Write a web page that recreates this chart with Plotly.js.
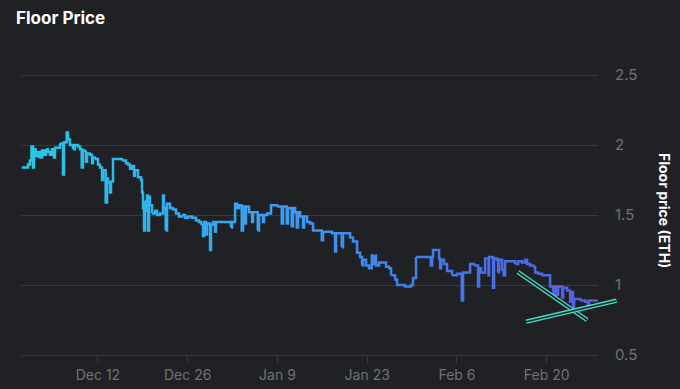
<!DOCTYPE html>
<html>
<head>
<meta charset="utf-8">
<script src="https://cdn.plot.ly/plotly-3.0.1.min.js"></script>
<style>html,body{margin:0;padding:0;background:#202125;}#chart{width:680px;height:389px;}</style>
</head>
<body>
<div id="chart"></div>
<script>
// ---- data ----
const startDate = '2022-11-30';
const dayOffsets = [0.11,0.94,1.09,1.40,1.64,1.87,2.03,2.29,2.65,2.96,3.28,3.59,3.90,4.21,4.52,4.84,5.15,5.30,6.08,6.55,
6.71,7.13,7.33,7.64,8.11,8.42,8.89,9.20,9.47,9.67,9.98,10.14,10.30,10.76,11.08,11.23,11.54,12.01,12.32,12.64,
12.79,13.21,13.42,13.57,13.88,14.04,14.35,15.13,15.76,16.38,16.69,17.00,17.32,17.63,17.78,18.25,18.72,18.88,19.03,19.19,
19.34,19.50,19.66,19.81,19.97,20.12,20.44,20.90,21.22,21.68,22.15,22.31,22.57,22.78,23.24,23.71,24.18,24.65,25.12,25.59,
26.05,26.68,27.30,27.77,28.08,28.39,28.55,28.86,29.02,29.49,29.64,29.95,30.27,30.42,31.36,32.29,32.76,32.92,33.39,33.70,
34.01,34.43,34.63,34.94,35.10,35.57,36.04,36.19,36.93,37.13,37.75,37.91,38.38,39.00,39.94,40.67,40.87,41.45,41.65,42.23,
42.43,42.75,43.01,43.21,43.53,43.99,44.15,44.62,45.09,45.55,46.33,46.91,47.11,47.89,48.52,48.99,49.14,49.77,50.03,50.23,
51.33,51.79,52.42,52.89,53.20,53.35,53.82,54.29,54.71,54.91,55.23,55.38,55.85,56.47,56.94,57.41,57.72,58.35,58.66,59.91,
60.84,61.15,61.62,62.87,63.81,63.92,64.12,64.27,64.90,65.21,65.37,65.52,65.99,66.46,67.24,68.02,68.75,68.95,69.73,70.05,
70.67,71.29,71.45,71.76,72.23,72.39,72.85,72.93,73.01,73.63,73.79,74.26,74.41,74.57,75.04,75.27,75.51,76.29,77.07,77.54,
78.16,78.63,78.94,79.41,79.88,80.19,80.66,81.28,82.06,82.53,82.99,83.07,83.31,83.62,83.78,84.40,84.56,85.18,85.65,85.80,
86.11,86.27,87.21,87.99,88.46,88.61,89.95];
const prices = [1.84,1.84,1.86,1.89,1.99,1.84,1.97,1.92,1.95,1.91,1.96,1.93,1.97,1.95,1.93,1.97,1.91,1.98,2.01,1.79,
2.02,2.09,2.04,2.00,1.97,2.00,1.99,1.97,1.84,1.96,1.95,1.88,1.94,1.93,1.87,1.91,1.90,1.86,1.84,1.75,
1.82,1.59,1.76,1.73,1.66,1.74,1.90,1.90,1.89,1.87,1.86,1.83,1.85,1.78,1.82,1.77,1.75,1.66,1.55,1.39,
1.60,1.53,1.64,1.39,1.63,1.57,1.51,1.53,1.50,1.51,1.64,1.55,1.39,1.58,1.55,1.54,1.51,1.49,1.50,1.48,
1.49,1.48,1.46,1.45,1.43,1.35,1.45,1.36,1.44,1.25,1.43,1.45,1.38,1.45,1.45,1.45,1.41,1.45,1.58,1.55,
1.57,1.39,1.56,1.44,1.56,1.52,1.45,1.52,1.39,1.50,1.45,1.50,1.51,1.57,1.56,1.44,1.56,1.44,1.55,1.42,
1.55,1.52,1.41,1.52,1.49,1.41,1.49,1.45,1.44,1.39,1.39,1.32,1.38,1.38,1.37,1.24,1.37,1.37,1.27,1.37,
1.34,1.31,1.23,1.20,1.14,1.18,1.14,1.12,1.21,1.15,1.21,1.14,1.16,1.16,1.13,1.12,1.07,1.04,1.00,0.99,
1.00,1.05,1.20,1.20,1.20,1.14,1.20,1.25,1.25,1.19,1.12,1.18,1.15,1.10,1.07,1.08,0.89,1.09,1.09,1.15,
1.14,0.99,1.12,1.09,1.09,1.19,1.18,1.07,1.20,0.98,1.19,1.18,1.09,1.18,1.11,1.07,1.17,1.17,1.15,1.17,
1.16,1.18,1.15,1.14,1.13,1.09,1.08,1.07,1.07,0.99,0.96,0.93,0.99,0.93,0.99,0.91,0.98,0.96,0.88,0.95,
0.84,0.90,0.89,0.88,0.85,0.89,0.89];
const trendADays = [77.5, 88.3];
const trendAPrices = [1.093, 0.75];
const trendBDays = [78.8, 92.9];
const trendBPrices = [0.738, 0.888];
const rangeDays = [0, 90];
const yTicks = [0.5, 1, 1.5, 2, 2.5];
const firstTick = '2022-12-12';
const tickStepDays = 14;

if (dayOffsets.length !== prices.length) console.error('length mismatch', dayOffsets.length, prices.length);

// ---- helpers ----
const DAY = 86400000;
const t0 = Date.parse(startDate + 'T00:00:00Z');
function toDate(d){ return new Date(t0 + d*DAY).toISOString().replace('T',' ').slice(0,19); }
const xDates = dayOffsets.map(toDate);

// gradient colours along time
const stops = [[0,[40,200,232]],[0.45,[60,155,240]],[0.75,[70,118,232]],[1,[88,92,226]]];
function colorAt(f){
  for(let i=1;i<stops.length;i++){
    if(f<=stops[i][0]){
      const a=stops[i-1],b=stops[i],k=(f-a[0])/(b[0]-a[0]);
      const c=a[1].map((v,j)=>Math.round(v+(b[1][j]-v)*k));
      return 'rgb('+c.join(',')+')';
    }
  }
  return 'rgb('+stops[stops.length-1][1].join(',')+')';
}

const traces = [];
const chunk = 6;
for(let s=0; s<xDates.length-1; s+=chunk){
  const e = Math.min(s+chunk, xDates.length-1);
  const mid = (dayOffsets[s]+dayOffsets[e])/2 / rangeDays[1];
  traces.push({
    type:'scatter', mode:'lines', x:xDates.slice(s,e+1), y:prices.slice(s,e+1),
    line:{shape:'hv', width:2.5, color:colorAt(mid)}, hoverinfo:'skip', showlegend:false,
    xaxis:'x', yaxis:'y'
  });
}
// trend lines (hollow look: wide cyan + dark core)
[[trendADays,trendAPrices],[trendBDays,trendBPrices]].forEach(([d,p])=>{
  traces.push({type:'scatter',mode:'lines',x:d.map(toDate),y:p,xaxis:'x2',yaxis:'y2',
    line:{color:'#48dcc6',width:4.5},hoverinfo:'skip',showlegend:false});
  traces.push({type:'scatter',mode:'lines',x:d.map(toDate),y:p,xaxis:'x2',yaxis:'y2',
    line:{color:'#202125',width:1.6},hoverinfo:'skip',showlegend:false});
});

const W=680, H=389;
const margin = {l:21, r:0, t:47, b:34};
const plotW = W - margin.l - margin.r;
const D = (598 - margin.l)/plotW;   // main x-axis domain end
const yRange = [0.5, 2.7];
const font = 'Inter, "Noto Sans", sans-serif';
const grey = '#717277';
const lineGrey = '#38393e';

const layout = {
  width:W, height:H, margin:margin,
  paper_bgcolor:'#202125', plot_bgcolor:'rgba(0,0,0,0)',
  font:{family:font, color:grey},
  title:{text:'<b>Floor Price</b>', x:16/W, xanchor:'left', xref:'container', y:1-18/H, yanchor:'middle', yref:'container',
         font:{size:17, color:'#ffffff', family:font}},
  xaxis:{type:'date', domain:[0,D], range:[toDate(rangeDays[0]), toDate(rangeDays[1])],
         showgrid:false, zeroline:false, showline:true, linecolor:lineGrey, linewidth:1,
         ticks:'outside', ticklen:7, tickcolor:lineGrey, tickwidth:1,
         tick0:firstTick, dtick:tickStepDays*DAY, tickformat:'%b %-d',
         tickfont:{size:14, color:grey, family:font}, anchor:'y'},
  yaxis:{range:yRange, side:'right', anchor:'x', tickvals:yTicks, ticktext:yTicks.map(String),
         showgrid:true, gridcolor:lineGrey, gridwidth:1, zeroline:false, showline:false,
         ticks:'', ticklabelstandoff:16, tickfont:{size:15, color:grey, family:font}},
  xaxis2:{type:'date', domain:[0,1], range:[toDate(rangeDays[0]), toDate(rangeDays[1]/D)], visible:false, anchor:'y2'},
  yaxis2:{range:yRange, domain:[0,1], visible:false, anchor:'x2'},
  annotations:[{text:'<b>Floor price (ETH)</b>', textangle:90, xref:'paper', yref:'paper',
    x:(665-margin.l)/plotW, y:(355-210)/(H-margin.t-margin.b), xanchor:'center', yanchor:'middle',
    showarrow:false, font:{size:14, color:'#ffffff', family:font}}],
  showlegend:false
};
Plotly.newPlot('chart', traces, layout, {displayModeBar:false, staticPlot:true});
</script>
</body>
</html>
